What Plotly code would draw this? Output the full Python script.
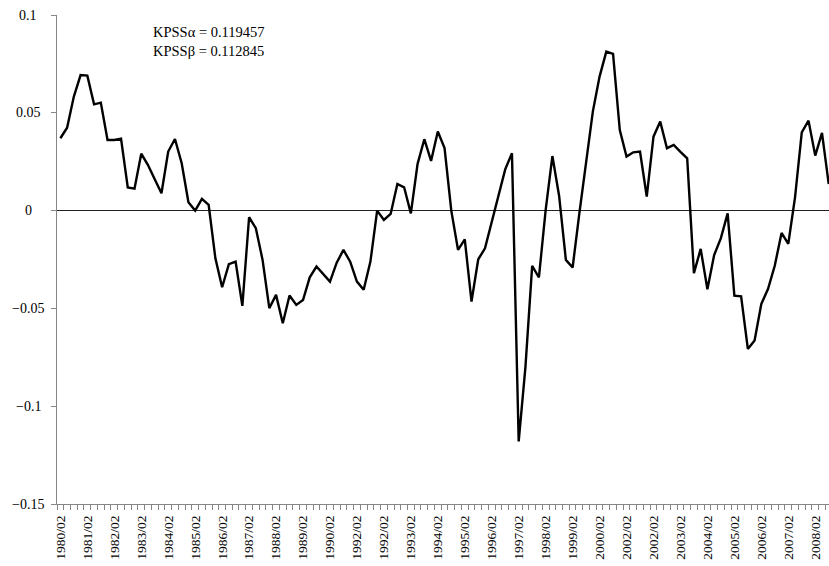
import plotly.graph_objects as go

values = [
    0.0370, 0.0424, 0.0583, 0.0693, 0.0690, 0.0543, 0.0552, 0.0361, 0.0361, 0.0368,
    0.0118, 0.0112, 0.0291, 0.0233, 0.0160, 0.0089, 0.0302, 0.0366, 0.0242, 0.0043,
    0.0000, 0.0060, 0.0029, -0.0244, -0.0392, -0.0274, -0.0261, -0.0487, -0.0034, -0.0090,
    -0.0252, -0.0499, -0.0431, -0.0576, -0.0434, -0.0482, -0.0457, -0.0341, -0.0286, -0.0325,
    -0.0363, -0.0266, -0.0201, -0.0261, -0.0363, -0.0405, -0.0261, 0.0000, -0.0048, -0.0017,
    0.0136, 0.0119, -0.0014, 0.0239, 0.0365, 0.0254, 0.0404, 0.0320, 0.0000, -0.0201,
    -0.0147, -0.0465, -0.0249, -0.0193, -0.0056, 0.0078, 0.0211, 0.0293, -0.1180, -0.0800,
    -0.0283, -0.0342, 0.0003, 0.0279, 0.0075, -0.0252, -0.0291, -0.0014, 0.0240, 0.0506,
    0.0685, 0.0813, 0.0801, 0.0412, 0.0276, 0.0298, 0.0302, 0.0072, 0.0378, 0.0455,
    0.0319, 0.0336, 0.0300, 0.0267, -0.0320, -0.0196, -0.0402, -0.0227, -0.0141, -0.0014,
    -0.0435, -0.0438, -0.0707, -0.0664, -0.0477, -0.0400, -0.0281, -0.0114, -0.0170, 0.0068,
    0.0400, 0.0460, 0.0281, 0.0397, 0.0136,
]

tick_labels = [
    "1980/02", "1981/02", "1982/02", "1983/02", "1984/02", "1985/02", "1986/02",
    "1987/02", "1988/02", "1989/02", "1990/02", "1992/02", "1992/02", "1993/02",
    "1994/02", "1995/02", "1996/02", "1997/02", "1998/02", "1999/02", "2000/02",
    "2002/02", "2002/02", "2003/02", "2004/02", "2005/02", "2006/02", "2007/02",
    "2008/02",
]
label_interval = 4

y_tickvals = [-0.15, -0.1, -0.05, 0, 0.05, 0.1]
y_ticktext = ["\u22120.15", "\u22120.1", "\u22120.05", "0", "0.05", "0.1"]

annot_lines = ["KPSS\u03b1 = 0.119457", "KPSS\u03b2 = 0.112845"]

FONT = "Liberation Serif"
GRAY = "#868686"

x = list(range(len(values)))
label_pos = [i * label_interval for i in range(len(tick_labels))]

fig = go.Figure(
    go.Scatter(
        x=x, y=values, mode="lines",
        line=dict(color="black", width=2.4),
        hoverinfo="skip",
    )
)

fig.update_layout(
    width=829, height=566,
    margin=dict(l=57, r=0, t=15, b=62, autoexpand=False),
    plot_bgcolor="white", paper_bgcolor="white",
    showlegend=False,
    font=dict(family=FONT, size=13, color="black"),
)

fig.update_xaxes(
    automargin=False,
    range=[-0.5, 114.04],
    showline=True, linecolor=GRAY, linewidth=1,
    showgrid=False, zeroline=False,
    tickmode="array", tickvals=label_pos, ticktext=tick_labels,
    tickangle=-90,
    ticks="outside", ticklen=5, tickcolor="rgba(0,0,0,0)",
    tickfont=dict(family=FONT, size=13.5, color="black"),
    minor=dict(tickmode="linear", tick0=-0.5, dtick=1, ticks="outside",
               ticklen=5, tickcolor=GRAY, tickwidth=1, showgrid=False),
)

fig.update_yaxes(
    automargin=False,
    range=[-0.15, 0.1],
    showline=True, linecolor=GRAY, linewidth=1,
    showgrid=False,
    zeroline=True, zerolinecolor="#222222", zerolinewidth=1,
    tickmode="array", tickvals=y_tickvals,
    showticklabels=False,
    ticks="outside", ticklen=5, tickcolor=GRAY,
)

# y tick labels, centred as in the reference
for v, t in zip(y_tickvals, y_ticktext):
    fig.add_annotation(
        text=t, xref="paper", yref="y", x=-0.0375, y=v,
        xanchor="center", yanchor="middle", showarrow=False,
        font=dict(family=FONT, size=14, color="black"),
    )

for k, txt in enumerate(annot_lines):
    fig.add_annotation(
        text=txt, xref="paper", yref="paper",
        x=0.1218, y=0.965 - k * 0.039,
        xanchor="left", yanchor="middle", showarrow=False,
        font=dict(family=FONT, size=14.5, color="black"),
    )

fig.write_html(
    "out.html",
    config={"displayModeBar": False},
    post_script="document.body.style.margin='0';document.body.style.overflow='hidden';",
)
